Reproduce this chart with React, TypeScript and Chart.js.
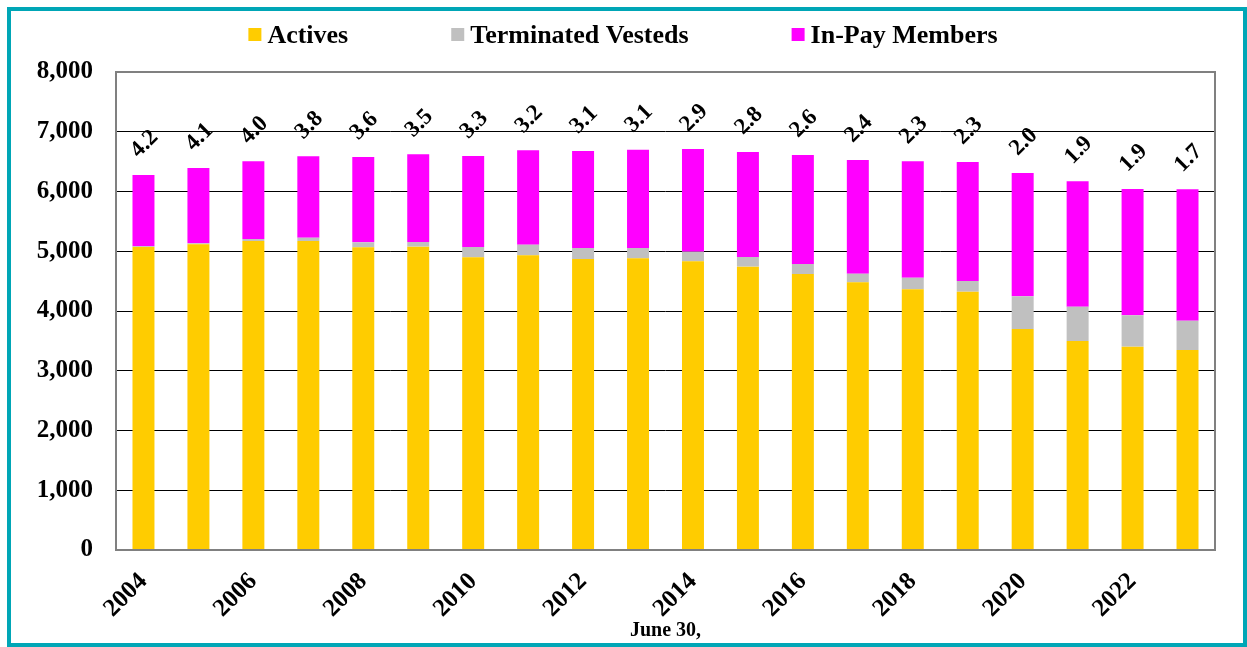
import React, { useEffect, useRef } from "react";
import { Chart, registerables } from "chart.js";

Chart.register(...registerables);

const years = [
  "2004", "2005", "2006", "2007", "2008", "2009", "2010", "2011", "2012", "2013",
  "2014", "2015", "2016", "2017", "2018", "2019", "2020", "2021", "2022", "2023",
];
const actives = [
  5071, 5116, 5172, 5172, 5066, 5077, 4899, 4932, 4870, 4882,
  4832, 4742, 4619, 4480, 4363, 4323, 3699, 3498, 3403, 3347,
];
const terminatedVesteds = [
  14, 17, 33, 55, 84, 78, 172, 178, 184, 172,
  161, 162, 168, 144, 194, 179, 547, 574, 525, 491,
];
const inPayMembers = [
  1191, 1260, 1300, 1362, 1427, 1467, 1523, 1579, 1624, 1646,
  1718, 1757, 1824, 1903, 1948, 1992, 2064, 2098, 2114, 2199,
];
const ratioLabels = [
  "4.2", "4.1", "4.0", "3.8", "3.6", "3.5", "3.3", "3.2", "3.1", "3.1",
  "2.9", "2.8", "2.6", "2.4", "2.3", "2.3", "2.0", "1.9", "1.9", "1.7",
];
const seriesNames = ["Actives", "Terminated Vesteds", "In-Pay Members"];
const seriesColors = ["#FFCC00", "#C0C0C0", "#FF00FF"];

const FONT = "'Liberation Serif', 'Times New Roman', serif";

const legendPlugin = {
  id: "customLegend",
  afterDraw(chart: any) {
    const ctx = chart.ctx;
    ctx.save();
    ctx.font = `bold 26px ${FONT}`;
    const box = 13;
    const gap = 6;
    const spacing = 103;
    const items = chart.data.datasets.map((ds: any) => ({
      text: ds.label,
      color: ds.backgroundColor,
      w: box + gap + ctx.measureText(ds.label).width,
    }));
    const total =
      items.reduce((s: number, it: any) => s + it.w, 0) + spacing * (items.length - 1);
    let x = chart.width / 2 - 4 - total / 2;
    ctx.textAlign = "left";
    ctx.textBaseline = "alphabetic";
    for (const it of items) {
      ctx.fillStyle = it.color;
      ctx.fillRect(x, 17, box, box);
      ctx.fillStyle = "#000";
      ctx.fillText(it.text, x + box + gap, 32);
      x += it.w + spacing;
    }
    ctx.restore();
  },
};

const frameAndLabelsPlugin = {
  id: "frameAndLabels",
  afterDatasetsDraw(chart: any) {
    const ctx = chart.ctx;
    const a = chart.chartArea;
    ctx.save();
    ctx.strokeStyle = "#808080";
    ctx.lineWidth = 2;
    ctx.strokeRect(a.left, a.top, a.right - a.left, a.bottom - a.top);
    const meta = chart.getDatasetMeta(chart.data.datasets.length - 1);
    ctx.font = `bold 23px ${FONT}`;
    ctx.fillStyle = "#000";
    ctx.textAlign = "center";
    ctx.textBaseline = "middle";
    meta.data.forEach((el: any, i: number) => {
      ctx.save();
      ctx.translate(el.x + 1, el.y - 31);
      ctx.rotate(-Math.PI / 4);
      ctx.fillText(ratioLabels[i], 0, 0);
      ctx.restore();
    });
    ctx.restore();
  },
};

export default function App() {
  const canvasRef = useRef<HTMLCanvasElement | null>(null);

  useEffect(() => {
    if (!canvasRef.current) return;
    const chart = new Chart(canvasRef.current, {
      type: "bar",
      data: {
        labels: years,
        datasets: [
          { label: seriesNames[0], data: actives, backgroundColor: seriesColors[0] },
          { label: seriesNames[1], data: terminatedVesteds, backgroundColor: seriesColors[1] },
          { label: seriesNames[2], data: inPayMembers, backgroundColor: seriesColors[2] },
        ].map((d) => ({
          ...d,
          barPercentage: 0.4,
          categoryPercentage: 1,
          borderWidth: 0,
        })),
      },
      options: {
        responsive: true,
        maintainAspectRatio: false,
        animation: false,
        layout: { padding: { top: 61, right: 28, bottom: 0, left: 0 } },
        plugins: {
          legend: { display: false },
          tooltip: { enabled: false },
          title: { display: false },
        },
        scales: {
          x: {
            stacked: true,
            grid: { display: false, drawTicks: false },
            border: { display: false },
            ticks: {
              autoSkip: false,
              minRotation: 45,
              maxRotation: 45,
              padding: 17,
              color: "#000",
              font: { family: FONT, size: 25, weight: "bold" },
              callback: (_v: any, i: number) => (i % 2 === 0 ? years[i] : ""),
            },
            title: {
              display: true,
              text: "June 30,",
              color: "#000",
              font: { family: FONT, size: 20, weight: "bold", lineHeight: 1 },
              padding: { top: 0, bottom: 2 },
            },
            afterFit: (scale: any) => {
              scale.height = 93;
            },
          },
          y: {
            stacked: true,
            min: 0,
            max: 8000,
            ticks: {
              stepSize: 1000,
              padding: 23,
              color: "#000",
              font: { family: FONT, size: 25, weight: "bold" },
              callback: (v: any) => Number(v).toLocaleString("en-US"),
            },
            grid: { color: "#000", lineWidth: 1, drawTicks: false },
            border: { display: false },
            afterFit: (scale: any) => {
              scale.width = 105;
            },
          },
        },
      },
      plugins: [legendPlugin, frameAndLabelsPlugin],
    });
    return () => chart.destroy();
  }, []);

  return (
    <div
      style={{
        position: "absolute",
        left: 7,
        top: 7,
        width: 1240,
        height: 640,
        border: "4px solid #00A6B6",
        boxSizing: "border-box",
        background: "#fff",
      }}
    >
      <div style={{ position: "absolute", left: 0, top: 0, width: 1232, height: 632 }}>
        <canvas ref={canvasRef} />
      </div>
    </div>
  );
}
